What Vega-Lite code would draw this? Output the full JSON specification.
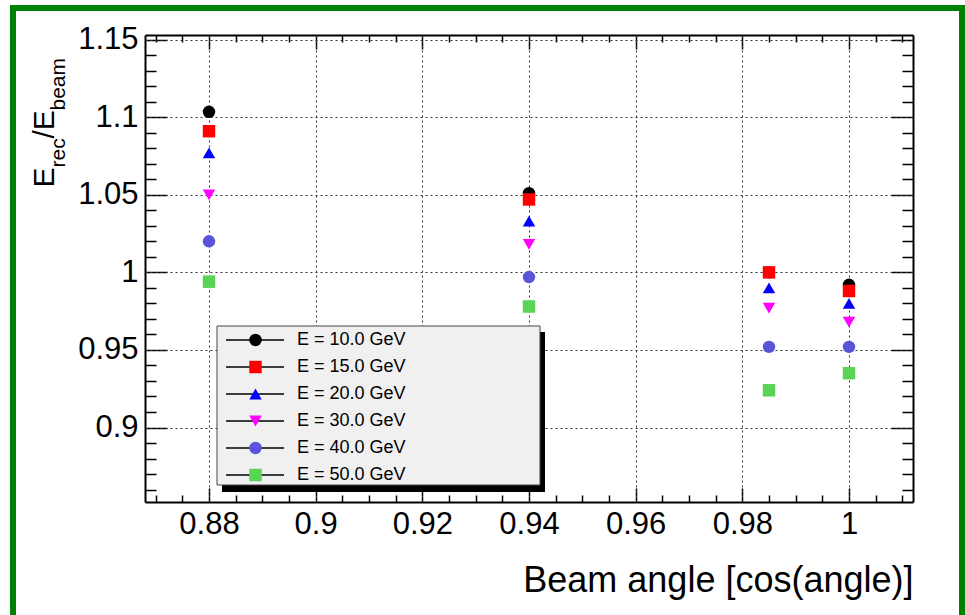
{
  "$schema": "https://vega.github.io/schema/vega-lite/v6.json",
  "width": 949,
  "height": 620,
  "autosize": {"type": "none"},
  "padding": {"left": 13, "top": 8, "right": 3, "bottom": -13},
  "background": "white",
  "data": {
    "values": [
      {"angle": 0.88, "ratio": 1.1035, "energy": "E = 10.0 GeV"},
      {"angle": 0.88, "ratio": 1.091, "energy": "E = 15.0 GeV"},
      {"angle": 0.88, "ratio": 1.077, "energy": "E = 20.0 GeV"},
      {"angle": 0.88, "ratio": 1.05, "energy": "E = 30.0 GeV"},
      {"angle": 0.88, "ratio": 1.02, "energy": "E = 40.0 GeV"},
      {"angle": 0.88, "ratio": 0.994, "energy": "E = 50.0 GeV"},
      {"angle": 0.94, "ratio": 1.051, "energy": "E = 10.0 GeV"},
      {"angle": 0.94, "ratio": 1.047, "energy": "E = 15.0 GeV"},
      {"angle": 0.94, "ratio": 1.033, "energy": "E = 20.0 GeV"},
      {"angle": 0.94, "ratio": 1.018, "energy": "E = 30.0 GeV"},
      {"angle": 0.94, "ratio": 0.997, "energy": "E = 40.0 GeV"},
      {"angle": 0.94, "ratio": 0.978, "energy": "E = 50.0 GeV"},
      {"angle": 0.985, "ratio": 1.0, "energy": "E = 10.0 GeV"},
      {"angle": 0.985, "ratio": 1.0, "energy": "E = 15.0 GeV"},
      {"angle": 0.985, "ratio": 0.99, "energy": "E = 20.0 GeV"},
      {"angle": 0.985, "ratio": 0.977, "energy": "E = 30.0 GeV"},
      {"angle": 0.985, "ratio": 0.952, "energy": "E = 40.0 GeV"},
      {"angle": 0.985, "ratio": 0.924, "energy": "E = 50.0 GeV"},
      {"angle": 1.0, "ratio": 0.992, "energy": "E = 10.0 GeV"},
      {"angle": 1.0, "ratio": 0.988, "energy": "E = 15.0 GeV"},
      {"angle": 1.0, "ratio": 0.98, "energy": "E = 20.0 GeV"},
      {"angle": 1.0, "ratio": 0.968, "energy": "E = 30.0 GeV"},
      {"angle": 1.0, "ratio": 0.952, "energy": "E = 40.0 GeV"},
      {"angle": 1.0, "ratio": 0.935, "energy": "E = 50.0 GeV"}
    ]
  },
  "resolve": {"axis": {"x": "independent", "y": "independent"}},
  "layer": [
    {
      "description": "legend shadow",
      "mark": {"type": "point", "opacity": 0},
      "encoding": {
        "x": {"field": "angle", "type": "quantitative", "scale": {"domain": [0.868, 1.012], "range": [132, 900], "nice": false, "zero": false},
          "axis": {"orient": "bottom", "offset": -593, "domain": true, "ticks": true, "tickSize": 14, "values": [0.88, 0.9, 0.92, 0.94, 0.96, 0.98, 1], "title": null}},
        "y": {"field": "ratio", "type": "quantitative", "scale": {"domain": [0.852, 1.153], "range": [494, 27], "nice": false, "zero": false},
          "axis": {"orient": "left", "offset": -900, "domain": true, "ticks": true, "tickSize": 22, "values": [0.9, 0.95, 1, 1.05, 1.1, 1.15], "title": null}},
        "color": {"field": "ratio", "type": "quantitative", "scale": {"range": ["#000000", "#000000"]},
          "legend": {"orient": "none", "legendX": 209, "legendY": 324, "title": null, "direction": "horizontal", "gradientLength": 323, "gradientThickness": 160, "gradientStrokeWidth": 0, "labelExpr": "''", "labelOpacity": 0, "padding": 0}}
      }
    },
    {
      "description": "legend box",
      "mark": {"type": "point", "opacity": 0},
      "encoding": {
        "x": {"field": "angle", "type": "quantitative", "scale": {"domain": [0.868, 1.012], "range": [132, 900], "nice": false, "zero": false},
          "axis": {"orient": "bottom", "offset": -593, "ticks": true, "tickSize": 7, "values": [0.87, 0.875, 0.885, 0.89, 0.895, 0.905, 0.91, 0.915, 0.925, 0.93, 0.935, 0.945, 0.95, 0.955, 0.965, 0.97, 0.975, 0.985, 0.99, 0.995, 1.005, 1.01], "title": null}},
        "y": {"field": "ratio", "type": "quantitative", "scale": {"domain": [0.852, 1.153], "range": [494, 27], "nice": false, "zero": false},
          "axis": {"orient": "left", "offset": -900, "ticks": true, "tickSize": 11, "values": [0.86, 0.87, 0.88, 0.89, 0.91, 0.92, 0.93, 0.94, 0.96, 0.97, 0.98, 0.99, 1.01, 1.02, 1.03, 1.04, 1.06, 1.07, 1.08, 1.09, 1.11, 1.12, 1.13, 1.14], "title": null}},
        "stroke": {"field": "angle", "type": "quantitative", "scale": {"range": ["#f0f0f0", "#f0f0f0"]},
          "legend": {"orient": "none", "legendX": 204, "legendY": 318, "title": null, "direction": "horizontal", "gradientLength": 323, "gradientThickness": 159, "gradientStrokeColor": "#444444", "gradientStrokeWidth": 1, "labelExpr": "''", "labelOpacity": 0, "padding": 0}}
      }
    },
    {
      "description": "legend lines and labels",
      "mark": {"type": "line", "opacity": 0, "color": "#000000", "strokeWidth": 1.6},
      "encoding": {
        "x": {"field": "angle", "type": "quantitative", "scale": {"domain": [0.868, 1.012], "range": [132, 900], "nice": false, "zero": false},
          "axis": {"orient": "top", "offset": -494, "ticks": true, "tickSize": 14, "values": [0.88, 0.9, 0.92, 0.94, 0.96, 0.98, 1], "title": null}},
        "y": {"field": "ratio", "type": "quantitative", "scale": {"domain": [0.852, 1.153], "range": [494, 27], "nice": false, "zero": false},
          "axis": {"orient": "right", "offset": -817, "ticks": true, "tickSize": 22, "values": [0.9, 0.95, 1, 1.05, 1.1, 1.15], "title": null}},
        "strokeDash": {"field": "energy", "type": "nominal",
          "scale": {"domain": ["E = 10.0 GeV", "E = 15.0 GeV", "E = 20.0 GeV", "E = 30.0 GeV", "E = 40.0 GeV", "E = 50.0 GeV"], "range": [[1, 0]]},
          "legend": {"orient": "none", "legendX": 212, "legendY": 323, "title": null, "padding": 0, "symbolType": "stroke", "symbolSize": 3364, "symbolStrokeColor": "#000000", "symbolStrokeWidth": 1.6, "clipHeight": 18, "rowPadding": 9, "labelOffset": 12, "labelFontSize": 18, "labelLimit": 400,
            "encode": {"symbols": {"update": {"opacity": {"value": 1}, "strokeOpacity": {"value": 1}, "stroke": {"value": "#000000"}, "strokeWidth": {"value": 1.6}}}}}}
      }
    },
    {
      "description": "measured points",
      "mark": {"type": "point", "filled": true, "size": 155, "opacity": 1, "strokeWidth": 0},
      "encoding": {
        "x": {"field": "angle", "type": "quantitative", "scale": {"domain": [0.868, 1.012], "range": [132, 900], "nice": false, "zero": false},
          "axis": {"orient": "bottom", "offset": -126, "domain": true, "labels": true, "ticks": false, "tickSize": 0, "labelPadding": 7, "labelFlush": false, "labelOverlap": false, "labelBound": false, "values": [0.88, 0.9, 0.92, 0.94, 0.96, 0.98, 1], "format": "~g",
            "title": "Beam angle [cos(angle)]", "titleFontSize": 36, "titleX": 900, "titleY": 89, "titleAlign": "right", "titleBaseline": "alphabetic", "titleAngle": 0}},
        "y": {"field": "ratio", "type": "quantitative", "scale": {"domain": [0.852, 1.153], "range": [494, 27], "nice": false, "zero": false},
          "axis": {"orient": "left", "offset": -132, "domain": true, "labels": true, "ticks": false, "tickSize": 0, "labelPadding": 7, "labelFlush": false, "labelOverlap": false, "labelBound": false, "values": [0.9, 0.95, 1, 1.05, 1.1, 1.15], "format": "~g",
            "title": "E", "titleFontSize": 30, "titleX": -92, "titleY": 179, "titleAngle": 270, "titleAlign": "left", "titleBaseline": "alphabetic"}},
        "fill": {"field": "energy", "type": "nominal",
          "scale": {"range": ["#000000", "#ff0000", "#0000ff", "#ff00ff", "#5954d9", "#59d454"]},
          "legend": {"orient": "none", "legendX": 236, "legendY": 323, "title": null, "padding": 0, "symbolSize": 155, "symbolStrokeWidth": 0, "clipHeight": 18, "rowPadding": 9, "labelExpr": "''", "labelOpacity": 0}},
        "shape": {"field": "energy", "type": "nominal",
          "scale": {"range": ["circle", "square", "triangle-up", "triangle-down", "circle", "square"]},
          "legend": {"orient": "none", "legendX": 236, "legendY": 323, "title": null, "padding": 0, "symbolSize": 155, "symbolStrokeWidth": 0, "clipHeight": 18, "rowPadding": 9, "labelExpr": "''", "labelOpacity": 0}}
      }
    },
    {
      "mark": {"type": "point", "opacity": 0},
      "encoding": {
        "x": {"field": "angle", "type": "quantitative", "scale": {"domain": [0.868, 1.012], "range": [132, 900], "nice": false, "zero": false},
          "axis": {"orient": "top", "offset": -494, "ticks": true, "tickSize": 7, "values": [0.87, 0.875, 0.885, 0.89, 0.895, 0.905, 0.91, 0.915, 0.925, 0.93, 0.935, 0.945, 0.95, 0.955, 0.965, 0.97, 0.975, 0.985, 0.99, 0.995, 1.005, 1.01], "title": null}},
        "y": {"field": "ratio", "type": "quantitative", "scale": {"domain": [0.852, 1.153], "range": [494, 27], "nice": false, "zero": false},
          "axis": {"orient": "right", "offset": -817, "ticks": true, "tickSize": 11, "values": [0.86, 0.87, 0.88, 0.89, 0.91, 0.92, 0.93, 0.94, 0.96, 0.97, 0.98, 0.99, 1.01, 1.02, 1.03, 1.04, 1.06, 1.07, 1.08, 1.09, 1.11, 1.12, 1.13, 1.14], "title": null}}
      }
    },
    {
      "description": "dotted grid",
      "mark": {"type": "point", "opacity": 0},
      "encoding": {
        "x": {"field": "angle", "type": "quantitative", "scale": {"domain": [0.868, 1.012], "range": [132, 900], "nice": false, "zero": false},
          "axis": {"orient": "top", "offset": -494, "ticks": true, "tickSize": 467, "tickWidth": 1, "tickColor": "#333333", "tickDash": [2, 3], "values": [0.88, 0.9, 0.92, 0.94, 0.96, 0.98, 1], "title": null}},
        "y": {"field": "ratio", "type": "quantitative", "scale": {"domain": [0.852, 1.153], "range": [494, 27], "nice": false, "zero": false},
          "axis": {"orient": "right", "offset": -817, "ticks": true, "tickSize": 768, "tickWidth": 1, "tickColor": "#333333", "tickDash": [2, 3], "values": [0.9, 0.95, 1, 1.05, 1.1, 1.15], "title": null}}
      }
    },
    {
      "mark": {"type": "point", "opacity": 0},
      "encoding": {
        "x": {"field": "angle", "type": "quantitative", "axis": null},
        "y": {"field": "ratio", "type": "quantitative", "scale": {"domain": [0.852, 1.153], "range": [494, 27], "nice": false, "zero": false},
          "axis": {"orient": "left", "offset": -132, "title": "rec", "titleFontSize": 21, "titleX": -81, "titleY": 159, "titleAngle": 270, "titleAlign": "left", "titleBaseline": "alphabetic"}}
      }
    },
    {
      "mark": {"type": "point", "opacity": 0},
      "encoding": {
        "x": {"field": "angle", "type": "quantitative", "axis": null},
        "y": {"field": "ratio", "type": "quantitative", "scale": {"domain": [0.852, 1.153], "range": [494, 27], "nice": false, "zero": false},
          "axis": {"orient": "left", "offset": -132, "title": "/E", "titleFontSize": 30, "titleX": -92, "titleY": 130, "titleAngle": 270, "titleAlign": "left", "titleBaseline": "alphabetic"}}
      }
    },
    {
      "mark": {"type": "point", "opacity": 0},
      "encoding": {
        "x": {"field": "angle", "type": "quantitative", "axis": null},
        "y": {"field": "ratio", "type": "quantitative", "scale": {"domain": [0.852, 1.153], "range": [494, 27], "nice": false, "zero": false},
          "axis": {"orient": "left", "offset": -132, "title": "beam", "titleFontSize": 21, "titleX": -81, "titleY": 102, "titleAngle": 270, "titleAlign": "left", "titleBaseline": "alphabetic"}}
      }
    }
  ],
  "config": {
    "view": {"stroke": "#008000", "strokeWidth": 6},
    "axis": {
      "grid": false, "domain": false, "ticks": false, "labels": false,
      "domainColor": "#000000", "domainWidth": 2, "tickColor": "#000000", "tickWidth": 1.5,
      "labelFont": "Liberation Sans", "labelFontSize": 31, "labelColor": "#000000",
      "titleFont": "Liberation Sans", "titleFontWeight": "normal", "titleColor": "#000000"
    },
    "legend": {"labelFont": "Liberation Sans", "labelColor": "#000000"}
  }
}
